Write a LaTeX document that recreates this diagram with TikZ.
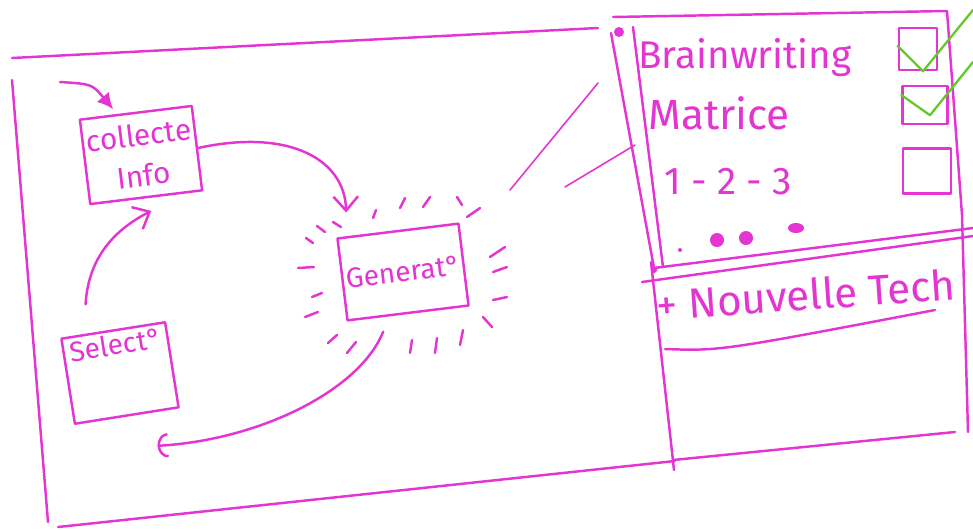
\documentclass[tikz,border=0pt]{standalone}
\usepackage{fontspec}
\setmainfont{Fira Sans}
\usetikzlibrary{arrows.meta,calc}
\definecolor{pinkm}{RGB}{228,52,210}
\definecolor{tickgreen}{RGB}{100,200,40}
\begin{document}
\begin{tikzpicture}[x={(0.02cm,0)},y={(0,-0.02cm)},
 ink/.style={draw=pinkm,line width=1.4pt,line cap=round,line join=round},
 fine/.style={draw=pinkm,line width=0.9pt,line cap=round},
 sbox/.style={ink,rectangle,text=pinkm,align=center,inner sep=2pt},
 htext/.style={text=pinkm,inner sep=0pt,anchor=west},
 arr/.style={ink,-{Straight Barb[length=8pt,width=14pt]}},
 cbox/.style={ink,rectangle,inner sep=0pt},
 tick/.style={draw=tickgreen,line width=1.3pt,line cap=round,line join=round}]
\useasboundingbox (0,0) rectangle (973,529);

% main frame
\draw[ink] (12,58) -- (598,28);
\draw[ink] (12,80) -- (48,522);
\draw[ink] (58,527) -- (675,461);

% right panel
\draw[ink] (613,17) -- (947,11) -- (962,215) -- (968,432);
\draw[ink] (611,33) -- (654,268);
\draw[ink] (633,27) -- (663,267);
\draw[ink] (651,262) -- (674,470);
\draw[ink] (654,268) -- (973,228);
\draw[ink] (642,282) -- (973,236);
\draw[ink] (673,460) -- (955,432);
\draw[ink] (665,349) .. controls (720,351) .. (935,310);
\fill[pinkm] (619,32) circle[radius=5];
\fill[pinkm] (654,270) circle[radius=3];

% boxes
\node[sbox,rotate=7,minimum width=2.2cm,minimum height=1.7cm,font=\fontsize{17}{23}\selectfont] (collect) at (141,155) {collecte\\Info};
\node[sbox,rotate=9,minimum width=2.1cm,minimum height=1.6cm,font=\fontsize{16}{19}\selectfont] (select) at (120,373) {Select°\\[14pt]\mbox{}};
\node[sbox,rotate=7,minimum width=2.25cm,minimum height=1.65cm,font=\fontsize{16}{19}\selectfont] (gen) at (403,272) {Generat°};

% arrows
\coordinate (inA) at (60,82);
\draw[ink,-{Latex[length=9pt,width=9pt]}] (inA) .. controls (92,84) .. ([xshift=-0.45cm,yshift=0.05cm]collect.north);
\draw[arr] (collect.east) .. controls (290,128) and (345,160) .. ([xshift=0.2cm,yshift=0.5cm]gen.north west);
\draw[arr] ([xshift=-0.55cm,yshift=0.5cm]select.north) .. controls (88,262) and (110,232) .. ([xshift=0.1cm,yshift=-0.25cm]collect.south);
\draw[ink,-{Arc Barb[length=6pt,width=14pt]}] ([xshift=-0.5cm,yshift=-0.35cm]gen.south) .. controls (360,390) and (260,440) .. ([xshift=-0.45cm,yshift=-0.75cm]select.south east);

% rays around generator
\foreach \a/\b/\c/\d in {317/226/325/232, 333/222/341/227, 306/238/313/243, 298/268/314/267,
  312/297/322/293, 305/317/318/312, 328/343/337/335, 347/353/356/342, 410/353/412/340,
  435/353/437/338, 460/345/463/330, 483/317/492/327, 493/300/507/297, 493/272/507/267,
  490/257/505/247, 467/217/480/208, 457/197/462/205, 423/207/430/197, 400/208/405/198, 373/218/376/210}
  \draw[ink] (\a,\b) -- (\c,\d);

% zoom lines to panel
\coordinate (z1a) at (510,190); \coordinate (z1b) at (598,83);
\coordinate (z2a) at (565,187); \coordinate (z2b) at (635,145);
\draw[fine] (z1a) -- (z1b);
\draw[fine] (z2a) -- (z2b);

% panel list
\node[htext,font=\fontsize{22}{26}\selectfont] (bw) at (638,58) {Brainwriting};
\node[htext,font=\fontsize{24}{28}\selectfont] (mat) at (648,113) {Matrice};
\node[htext,font=\fontsize{22}{26}\selectfont] (n123) at (664,182) {1 - 2 - 3};
\node[htext,font=\fontsize{24}{28}\selectfont,rotate=4] (nt) at (656,305) {+ Nouvelle Tech};
\fill[pinkm] (680,250) circle[radius=2];
\fill[pinkm] (717,240) circle[radius=7];
\fill[pinkm] (746,238) circle[radius=7];
\fill[pinkm] (796,228) ellipse[x radius=8,y radius=5];

% checkboxes
\node[cbox,minimum width=0.76cm,minimum height=0.84cm] (cb1) at (918,49) {};
\node[cbox,minimum width=0.9cm,minimum height=0.76cm] (cb2) at (925,105) {};
\node[cbox,minimum width=0.95cm,minimum height=0.9cm] (cb3) at (927,171) {};
\draw[tick] ([yshift=0.06cm]cb1.west) -- ([xshift=0.1cm]cb1.south) -- (973,10);
\draw[tick] ([yshift=0.2cm]cb2.west) -- ([xshift=0.1cm,yshift=0.2cm]cb2.south) -- (973,62);
\end{tikzpicture}
\end{document}
